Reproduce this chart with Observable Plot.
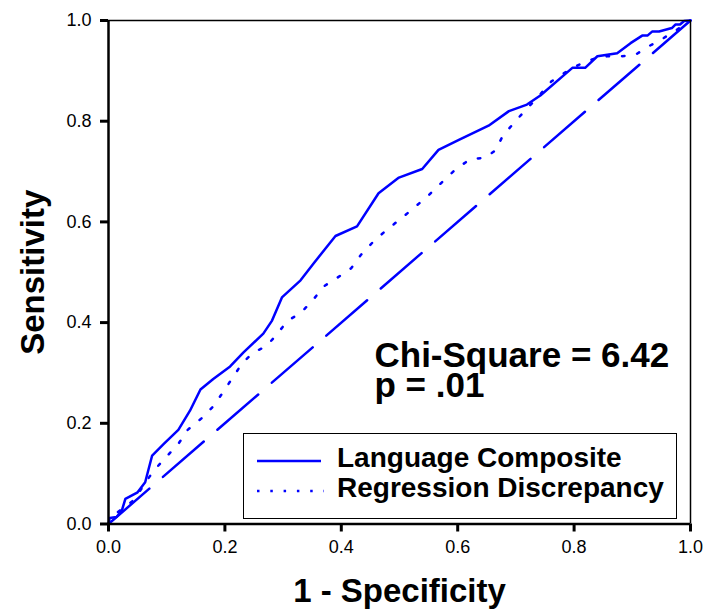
<!DOCTYPE html>
<html>
<head>
<meta charset="utf-8">
<script src="https://cdn.jsdelivr.net/npm/d3@7"></script>
<script src="https://cdn.jsdelivr.net/npm/@observablehq/plot@0.6"></script>
<style>
  body { margin: 0; background: #fff; }
  #wrap { position: relative; width: 710px; height: 616px; font-family: "Liberation Sans", Arial, sans-serif; }
  #legend { position: absolute; left: 243px; top: 433px; width: 432px; height: 84px; border: 1.5px solid #000; background: #fff; }
</style>
</head>
<body>
<div id="wrap"></div>
<script>
// Language Composite ROC curve
const langFpr = [0,0.002,0.014,0.023,0.029,0.050,0.063,0.075,0.095,0.120,0.140,0.158,0.180,0.209,0.232,0.266,0.281,0.298,0.330,0.352,0.390,0.427,0.464,0.499,0.539,0.567,0.602,0.653,0.688,0.719,0.742,0.797,0.819,0.840,0.874,0.897,0.917,0.926,0.934,0.946,0.968,0.974,0.982,0.989,1];
const langTpr = [0,0.012,0.014,0.027,0.050,0.063,0.083,0.136,0.159,0.187,0.225,0.267,0.288,0.313,0.341,0.378,0.404,0.450,0.484,0.517,0.572,0.591,0.657,0.688,0.705,0.743,0.763,0.791,0.820,0.833,0.851,0.906,0.906,0.929,0.935,0.955,0.970,0.970,0.978,0.978,0.985,0.992,0.992,0.999,1];
// Regression Discrepancy ROC curve
const regFpr = [0,0.0115,0.043,0.077,0.099,0.120,0.136,0.161,0.181,0.198,0.213,0.229,0.248,0.271,0.289,0.307,0.330,0.350,0.370,0.393,0.417,0.434,0.456,0.480,0.504,0.526,0.551,0.574,0.597,0.622,0.646,0.665,0.677,0.696,0.719,0.740,0.761,0.785,0.808,0.834,0.857,0.880,0.904,0.927,0.951,0.973,1];
const regTpr = [0,0.020,0.047,0.105,0.133,0.159,0.187,0.211,0.235,0.264,0.290,0.318,0.340,0.353,0.376,0.403,0.419,0.443,0.472,0.489,0.508,0.535,0.562,0.586,0.608,0.629,0.654,0.680,0.705,0.725,0.727,0.742,0.770,0.796,0.825,0.851,0.879,0.897,0.912,0.924,0.929,0.929,0.931,0.948,0.963,0.979,1];
// Chance diagonal
const diagFpr = [0, 1];
const diagTpr = [0, 1];
// Ticks
const tickValues = [0, 0.2, 0.4, 0.6, 0.8, 1.0];
const tickLabels = ["0.0", "0.2", "0.4", "0.6", "0.8", "1.0"];
// Texts
const xTitle = "1 - Specificity";
const yTitle = "Sensitivity";
const statLines = ["Chi-Square = 6.42", "p = .01"];
const statAt = { x: 0.457, y: 0.3545 };
const seriesNames = ["Language Composite", "Regression Discrepancy"];

const lang = langFpr.map((x, i) => ({x, y: langTpr[i]}));
const reg = regFpr.map((x, i) => ({x, y: regTpr[i]}));
const diag = diagFpr.map((x, i) => ({x, y: diagTpr[i]}));
const fmt = d => tickLabels[tickValues.indexOf(d)];

const blue = "#0000ff";
const plot = Plot.plot({
  width: 710,
  height: 616,
  marginLeft: 108,
  marginRight: 20,
  marginTop: 20,
  marginBottom: 92.5,
  style: { fontFamily: '"Liberation Sans", Arial, sans-serif', background: "#fff", color: "#000" },
  x: { domain: [0, 1] },
  y: { domain: [0, 1] },
  marks: [
    Plot.line(diag, { x: "x", y: "y", stroke: blue, strokeWidth: 2.5, strokeDasharray: "54,18" }),
    Plot.line(reg, { x: "x", y: "y", stroke: blue, strokeWidth: 2.5, strokeDasharray: "2.5,13" }),
    Plot.line(lang, { x: "x", y: "y", stroke: blue, strokeWidth: 2.5 }),
    Plot.ruleX([1], { strokeWidth: 1.5 }),
    Plot.ruleY([1], { strokeWidth: 1.5 }),
    Plot.ruleX([0], { strokeWidth: 2.5 }),
    Plot.ruleY([0], { strokeWidth: 2.5 }),
    Plot.axisX({ ticks: tickValues, tickFormat: fmt, tickSize: 8, tickPadding: 8, fontSize: 18, strokeWidth: 3, label: null }),
    Plot.axisY({ ticks: tickValues, tickFormat: fmt, tickSize: 8, tickPadding: 9, fontSize: 18, strokeWidth: 3, label: null }),
    Plot.text([yTitle], { frameAnchor: "left", textAnchor: "middle", lineAnchor: "middle", dx: -75, rotate: -90, fontSize: 33, fontWeight: "bold" }),
    Plot.text([xTitle], { frameAnchor: "bottom", textAnchor: "middle", lineAnchor: "middle", dy: 67, fontSize: 33, fontWeight: "bold" }),
    Plot.text([statLines.join("\n")], { x: statAt.x, y: statAt.y, textAnchor: "start", lineAnchor: "top", fontSize: 35, fontWeight: "bold", lineHeight: 0.86 })
  ]
});
const wrap = document.getElementById("wrap");
wrap.appendChild(plot);

// Legend overlay
const leg = document.createElement("div");
leg.id = "legend";
leg.innerHTML = `<svg width="432" height="84" style="display:block">
  <line x1="13" x2="77" y1="27" y2="27" stroke="${blue}" stroke-width="2.5"/>
  <line x1="13" x2="80" y1="57" y2="57" stroke="${blue}" stroke-width="2.5" stroke-dasharray="2.5,10.8"/>
  <text x="93" y="33" font-size="28" font-weight="bold" font-family='"Liberation Sans", Arial, sans-serif'>${seriesNames[0]}</text>
  <text x="93" y="63" font-size="28" font-weight="bold" font-family='"Liberation Sans", Arial, sans-serif'>${seriesNames[1]}</text>
</svg>`;
wrap.appendChild(leg);
</script>
</body>
</html>
